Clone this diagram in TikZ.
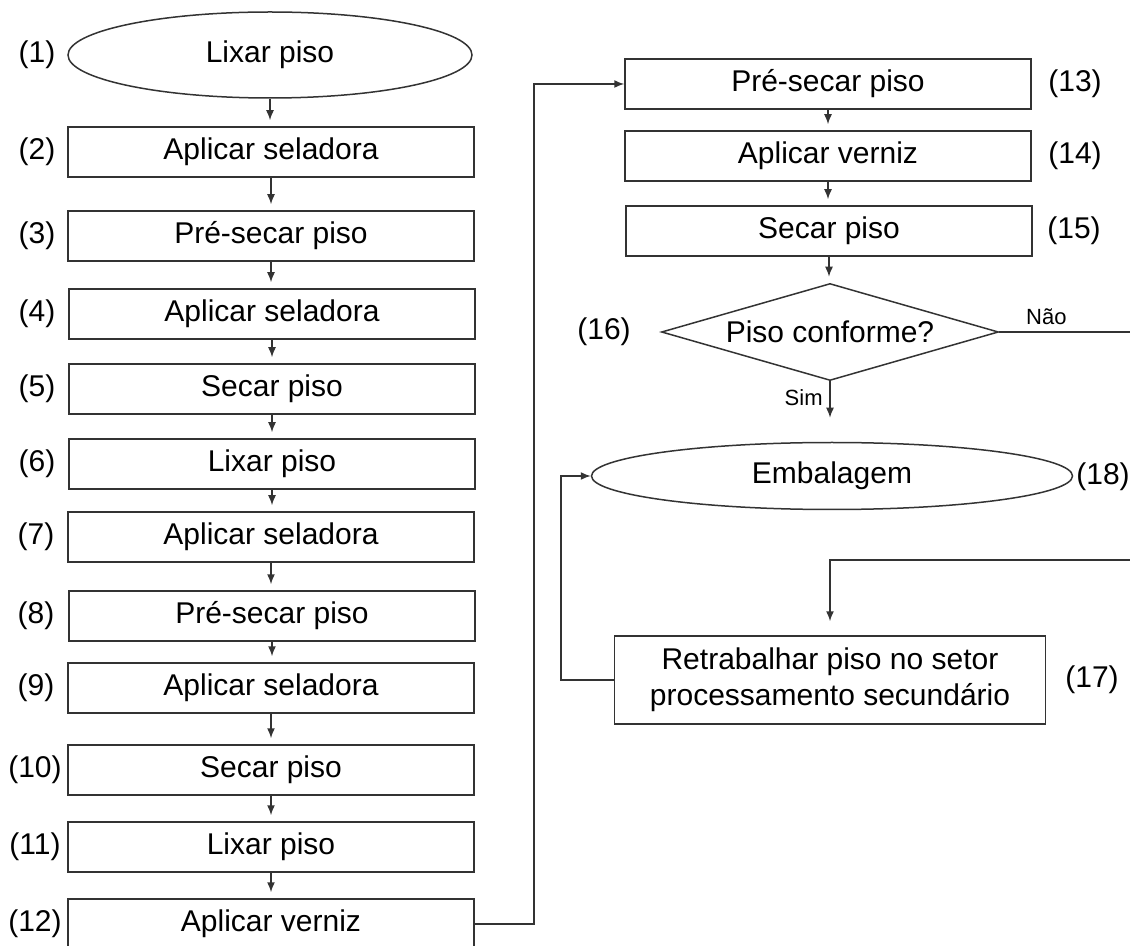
\documentclass[tikz,border=0pt]{standalone}
\usepackage{fontspec}
\setmainfont{Liberation Sans}
\usetikzlibrary{shapes.geometric,arrows.meta}
\begin{document}
\begin{tikzpicture}[x=0.5pt, y=-0.5pt, line width=0.75pt,
every node/.style={font=\fontsize{15}{18}\selectfont},
stepbox/.style={draw=black!80, rectangle, minimum width=203pt, minimum height=25pt, inner sep=0pt},
endbox/.style={draw=black!80, ellipse, inner sep=0pt},
ask/.style={draw=black!80, diamond, aspect=3.47, minimum width=168.5pt, minimum height=48.5pt, inner sep=0pt},
num/.style={inner sep=0pt},
small/.style={font=\fontsize{11}{13}\selectfont},
link/.style={draw=black!80},
flow/.style={draw=black!80, -{Latex[length=5pt,width=4pt]}, shorten >=3pt},
]
\useasboundingbox (0,0) rectangle (1130,946);

% left column
\node[endbox, minimum width=202pt, minimum height=43pt] (e1) at (270,55) {Lixar piso};
\node[stepbox] (b2) at (271,152) {Aplicar seladora};
\node[stepbox] (b3) at (271,236) {Pré-secar piso};
\node[stepbox] (b4) at (272,314) {Aplicar seladora};
\node[stepbox] (b5) at (272,389) {Secar piso};
\node[stepbox] (b6) at (272,464) {Lixar piso};
\node[stepbox] (b7) at (271,537) {Aplicar seladora};
\node[stepbox] (b8) at (272,616) {Pré-secar piso};
\node[stepbox] (b9) at (271,688) {Aplicar seladora};
\node[stepbox] (b10) at (271,770) {Secar piso};
\node[stepbox] (b11) at (271,847) {Lixar piso};
\node[stepbox] (b12) at (271,924) {Aplicar verniz};

\node[num] (n1) at (37,55) {(1)};
\node[num] (n2) at (37,152) {(2)};
\node[num] (n3) at (37,236) {(3)};
\node[num] (n4) at (37,314) {(4)};
\node[num] (n5) at (37,389) {(5)};
\node[num] (n6) at (37,464) {(6)};
\node[num] (n7) at (36,537) {(7)};
\node[num] (n8) at (36,616) {(8)};
\node[num] (n9) at (36,688) {(9)};
\node[num] (n10) at (35,770) {(10)};
\node[num] (n11) at (35,847) {(11)};
\node[num] (n12) at (35,924) {(12)};

% right column
\node[stepbox] (b13) at (828,84) {Pré-secar piso};
\node[stepbox] (b14) at (828,156) {Aplicar verniz};
\node[stepbox] (b15) at (829,231) {Secar piso};
\node[ask] (d16) at (830,332) {Piso conforme?};
\node[endbox, minimum width=240.5pt, minimum height=33.5pt] (e18) at (832,476) {Embalagem};
\node[stepbox, minimum width=215.5pt, minimum height=44pt, align=center] (b17) at (830,680)
{Retrabalhar piso no setor\\processamento secundário};

\node[num] (n13) at (1075,84) {(13)};
\node[num] (n14) at (1075,156) {(14)};
\node[num] (n15) at (1074,231) {(15)};
\node[num] (n16) at (604,332) {(16)};
\node[num] (n17) at (1092,680) {(17)};
\node[num] (n18) at (1103,477) {(18)};

\coordinate (nao) at (1130,332);
\coordinate (back) at (1130,560);

% connectors
\foreach \a/\b in {e1/b2,b2/b3,b3/b4,b4/b5,b5/b6,b6/b7,b7/b8,b8/b9,b9/b10,b10/b11,b11/b12,b13/b14,b14/b15,b15/d16}
\draw[flow] (\a.south) -- (\a.south |- \b.north);
\draw[flow, shorten >=0pt] (b12.east) -- ++(59,0) |- (b13.west);
\draw[flow, shorten >=12pt] (d16.south) -- node[small, left, pos=0.27] {Sim} (d16.south |- e18.north);
\draw[link] (d16.east) -- node[small, above, pos=0.36] {Não} (nao);
\draw[flow, shorten >=7pt] (back) -| (b17.north);
\draw[flow, shorten >=0pt] (b17.west) -- ++(-53,0) |- (e18.west);
\end{tikzpicture}
\end{document}
